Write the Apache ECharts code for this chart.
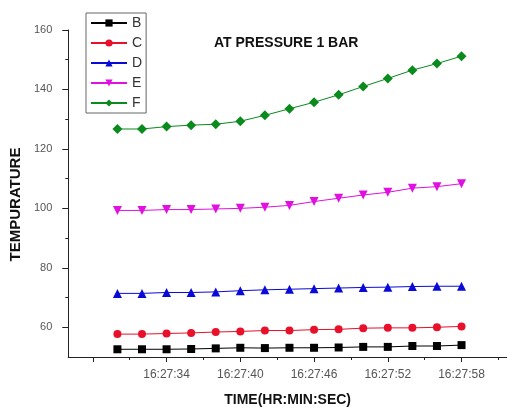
<!DOCTYPE html>
<html>
<head>
<meta charset="utf-8">
<script src="https://cdn.jsdelivr.net/npm/echarts@6/dist/echarts.min.js"></script>
<style>
html,body{margin:0;padding:0;background:#fff;}
#chart{width:507px;height:412px;}
</style>
</head>
<body>
<div id="chart"></div>
<script>
// time in seconds after 16:27:00
var times = [30, 32, 34, 36, 38, 40, 42, 44, 46, 48, 50, 52, 54, 56, 58];
var seriesB = [52.6, 52.6, 52.6, 52.7, 52.9, 53.1, 53.0, 53.1, 53.1, 53.2, 53.4, 53.4, 53.7, 53.7, 54.0];
var seriesC = [57.7, 57.7, 57.9, 58.1, 58.4, 58.6, 58.9, 58.9, 59.2, 59.3, 59.7, 59.8, 59.8, 60.0, 60.3];
var seriesD = [71.4, 71.4, 71.7, 71.7, 71.9, 72.3, 72.6, 72.8, 73.0, 73.2, 73.4, 73.5, 73.7, 73.8, 73.8];
var seriesE = [99.3, 99.3, 99.6, 99.6, 99.8, 100.0, 100.4, 101.0, 102.3, 103.4, 104.5, 105.4, 106.8, 107.3, 108.3];
var seriesF = [126.7, 126.7, 127.5, 128.0, 128.3, 129.3, 131.3, 133.5, 135.7, 138.2, 141.0, 143.7, 146.5, 148.7, 151.2];
var xLabelValues = [34, 40, 46, 52, 58];
var xMajorTicks = [28, 34, 40, 46, 52, 58];
var xMinorTicks = [31, 37, 43, 49, 55, 61];
var yLabelValues = [60, 80, 100, 120, 140, 160];
var yMinorTicks = [70, 90, 110, 130, 150];
var names = ['B', 'C', 'D', 'E', 'F'];
var colors = ['#000000', '#e8102a', '#0a0ad8', '#e010e0', '#0b8a1e'];
var symbols = ['rect', 'circle', 'triangle', 'triangle', 'diamond'];
var rotates = [0, 0, 0, 180, 0];
var sizes = [8, 8, 9, 9, 10];
var allSeries = [seriesB, seriesC, seriesD, seriesE, seriesF];

function pairs(vals) {
  return times.map(function (t, i) { return [t, vals[i]]; });
}

var chart = echarts.init(document.getElementById('chart'), null, {renderer: 'canvas'});
var font = 'Liberation Sans, Arial, sans-serif';
var xMin = 26, xMax = 61.7, yMin = 50, yMax = 160;

var option = {
  animation: false,
  backgroundColor: '#ffffff',
  title: {
    text: 'AT PRESSURE 1 BAR',
    left: 209, top: 31,
    textStyle: {fontFamily: font, fontSize: 14, fontWeight: 'bold', color: '#111'}
  },
  legend: {
    orient: 'vertical',
    left: 86, top: 13,
    padding: [3, 4, 3, 4],
    borderColor: '#666', borderWidth: 1,
    itemWidth: 36, itemHeight: 9, itemGap: 6,
    textStyle: {fontFamily: font, fontSize: 14, color: '#333'},
    data: names
  },
  grid: {left: 67, right: 0, top: 30, bottom: 50, containLabel: false},
  xAxis: [{
    type: 'value', min: xMin, max: xMax,
    name: 'TIME(HR:MIN:SEC)', nameLocation: 'middle', nameGap: 36,
    nameTextStyle: {fontFamily: font, fontSize: 14, fontWeight: 'bold', color: '#111'},
    axisLine: {show: true, lineStyle: {color: '#222', width: 1}},
    axisTick: {show: true, customValues: xMajorTicks, length: 5, lineStyle: {color: '#222'}},
    axisLabel: {show: true, customValues: xLabelValues, margin: 12, fontFamily: font, fontSize: 12, color: '#555',
      formatter: function (v) { return '16:27:' + v; }},
    splitLine: {show: false}
  }, {
    type: 'value', min: xMin, max: xMax, position: 'bottom',
    axisLine: {show: false},
    axisTick: {show: true, customValues: xMinorTicks, length: 3, lineStyle: {color: '#222'}},
    axisLabel: {show: false},
    splitLine: {show: false}
  }],
  yAxis: [{
    type: 'value', min: yMin, max: yMax,
    name: 'TEMPURATURE', nameLocation: 'middle', nameGap: 45, nameRotate: 90,
    nameTextStyle: {fontFamily: font, fontSize: 15, fontWeight: 'bold', color: '#111', padding: [0, 22, 0, 0]},
    axisLine: {show: true, lineStyle: {color: '#222', width: 1}},
    axisTick: {show: true, customValues: yLabelValues, length: 6, lineStyle: {color: '#222'}},
    axisLabel: {show: true, customValues: yLabelValues, margin: 16, fontFamily: font, fontSize: 11, color: '#555'},
    splitLine: {show: false}
  }, {
    type: 'value', min: yMin, max: yMax, position: 'left',
    axisLine: {show: false},
    axisTick: {show: true, customValues: yMinorTicks, length: 3, lineStyle: {color: '#222'}},
    axisLabel: {show: false},
    splitLine: {show: false}
  }],
  series: names.map(function (n, i) {
    return {
      name: n, type: 'line',
      xAxisIndex: 0, yAxisIndex: 0,
      data: pairs(allSeries[i]),
      symbol: symbols[i], symbolSize: sizes[i], symbolRotate: rotates[i],
      showAllSymbol: true,
      lineStyle: {color: colors[i], width: 1},
      itemStyle: {color: colors[i]},
      emphasis: {disabled: true}
    };
  })
};
chart.setOption(option);
</script>
</body>
</html>
